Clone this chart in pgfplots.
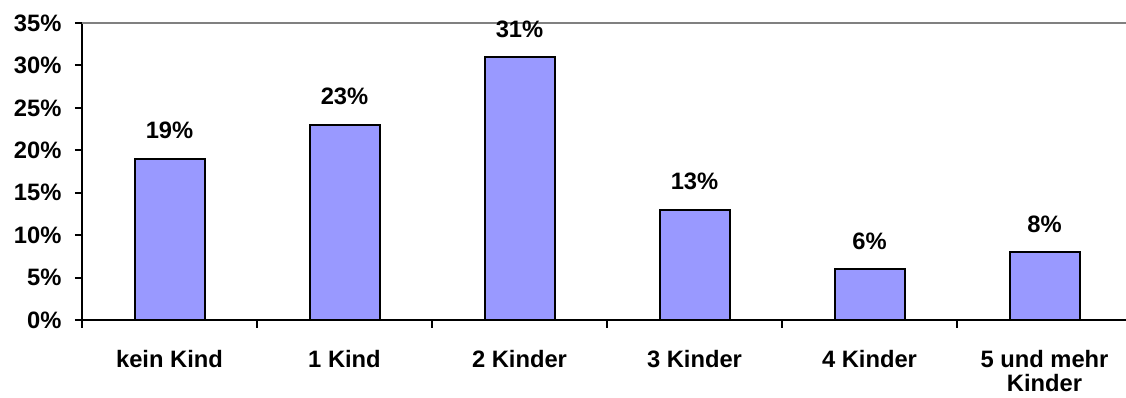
\documentclass[border=0pt]{standalone}
\usepackage{fontspec}
\setmainfont{Liberation Sans}
\usepackage{pgfplots}
\pgfplotsset{compat=1.18}
\definecolor{barblue}{HTML}{9999FF}
\begin{document}
\begin{tikzpicture}
\begin{axis}[
  at={(61.5pt,58.5pt)}, anchor=south west,
  scale only axis, width=787.5pt, height=222.75pt,
  xmin=-0.5, xmax=5.5, ymin=0, ymax=35,
  axis x line*=bottom, axis y line*=left,
  axis line style={-, line width=1.5pt},
  clip=false,
  ybar, bar width=52.5pt,
  xtick={0,...,5},
  xticklabels={kein Kind, 1 Kind, 2 Kinder, 3 Kinder, 4 Kinder, {5 und mehr\\Kinder}},
  major x tick style={draw=none},
  minor xtick={-0.5,0.5,...,5.5},
  ytick={0,5,...,35},
  tick align=outside,
  major tick length=5.25pt, minor tick length=6pt,
  every tick/.style={black, line width=1.5pt},
  /pgf/number format/assume math mode=true,
  yticklabel={\pgfmathprintnumber{\tick}\%},
  every tick label/.append style={font=\bfseries\fontsize{17.8}{18}\selectfont},
  xticklabel style={anchor=north, inner sep=0pt, yshift=-17pt, align=center},
  yticklabel style={anchor=east, inner sep=0pt, xshift=-10pt},
  nodes near coords={\pgfmathprintnumber{\pgfplotspointmeta}\%},
  every node near coord/.append style={font=\bfseries\fontsize{17.8}{18}\selectfont, anchor=south, inner sep=0pt, yshift=14pt},
]
\addplot[fill=barblue, draw=black, line width=1.5pt] coordinates {
  (0,19) (1,23) (2,31) (3,13) (4,6) (5,8)
};
\draw[gray, line width=1.5pt] (rel axis cs:0,1) -- (rel axis cs:1,1);
\end{axis}
\pgfresetboundingbox
\useasboundingbox (0,0) rectangle (844.5pt,298.5pt);
\end{tikzpicture}
\end{document}
